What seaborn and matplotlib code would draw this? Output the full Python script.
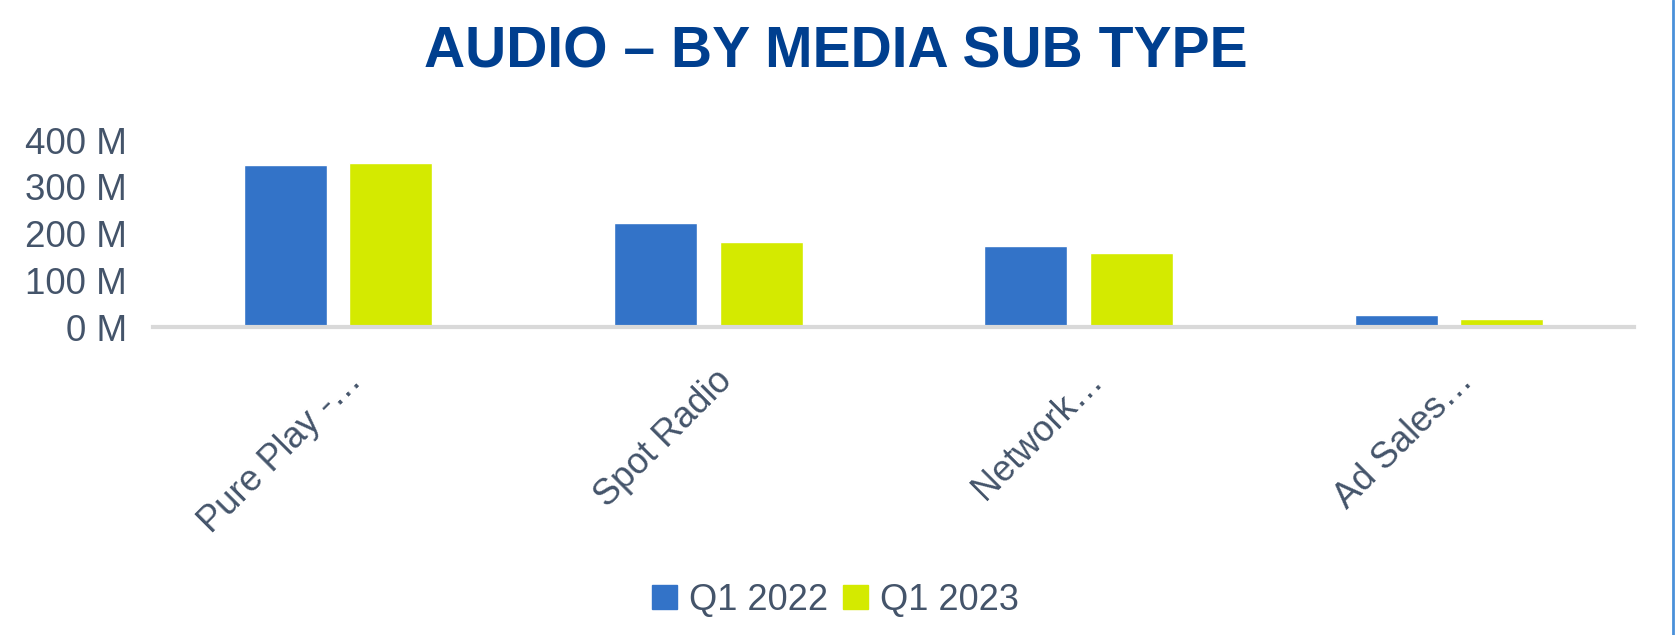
import matplotlib
matplotlib.use("Agg")
import matplotlib.pyplot as plt
import matplotlib.transforms as mtransforms
import seaborn as sns
import pandas as pd
from matplotlib.ticker import FuncFormatter
from matplotlib.lines import Line2D

categories = ["Pure Play -…", "Spot Radio", "Network…", "Ad Sales…"]
series_names = ["Q1 2022", "Q1 2023"]
q1_2022 = [347, 222, 173, 25]
q1_2023 = [351, 182, 158, 17]
y_ticks = [0, 100, 200, 300, 400]

df = pd.DataFrame({
    "cat": categories * 2,
    "series": [series_names[0]] * 4 + [series_names[1]] * 4,
    "value": q1_2022 + q1_2023,
})

sns.set_theme(style="white")
plt.rcParams["font.family"] = ["Liberation Sans", "DejaVu Sans"]

text_col = "#44546A"
colors = ["#3373C8", "#D4EA00"]

fig = plt.figure(figsize=(16.76, 6.35), dpi=100)
ax = fig.add_axes([0.0913, 0.485, 0.8837, 0.2945])

sns.barplot(data=df, x="cat", y="value", hue="series", palette=colors,
            width=0.57, gap=0.214, saturation=1, ax=ax, legend=False)

ax.set_ylim(0, 400)
ax.set_xlim(-0.5, 3.5)
ax.set_yticks(y_ticks)
ax.yaxis.set_major_formatter(FuncFormatter(lambda v, p: f"{int(v)} M"))
ax.set_xlabel("")
ax.set_ylabel("")
for s in ["top", "right", "left"]:
    ax.spines[s].set_visible(False)
ax.spines["bottom"].set_color("#D9D9D9")
ax.spines["bottom"].set_linewidth(3)
ax.tick_params(axis="y", length=0, labelsize=26.5, labelcolor=text_col, pad=19)
ax.tick_params(axis="x", length=0, labelsize=26, labelcolor=text_col, pad=26)
offset = mtransforms.ScaledTranslation(6 / 100, 0, fig.dpi_scale_trans)
for lab in ax.get_xticklabels():
    lab.set_rotation(45)
    lab.set_ha("right")
    lab.set_rotation_mode("anchor")
    lab.set_transform(lab.get_transform() + offset)

fig.text(0.4988, 0.893, "AUDIO – BY MEDIA SUB TYPE", ha="center", va="baseline",
         fontsize=41, fontweight="bold", color="#003F8F")

handles = [plt.Rectangle((0, 0), 1, 1, color=c) for c in colors]
fig.legend(handles, series_names, loc="center", bbox_to_anchor=(0.4985, 0.055),
           ncol=2, frameon=False, fontsize=26, labelcolor=text_col,
           handlelength=0.68, handleheight=0.68, handletextpad=0.33,
           columnspacing=0.42)

fig.add_artist(Line2D([0.9985, 0.9985], [0, 1], transform=fig.transFigure,
                      color="#4A90D9", linewidth=2))

fig.savefig("out.png", dpi=100)
